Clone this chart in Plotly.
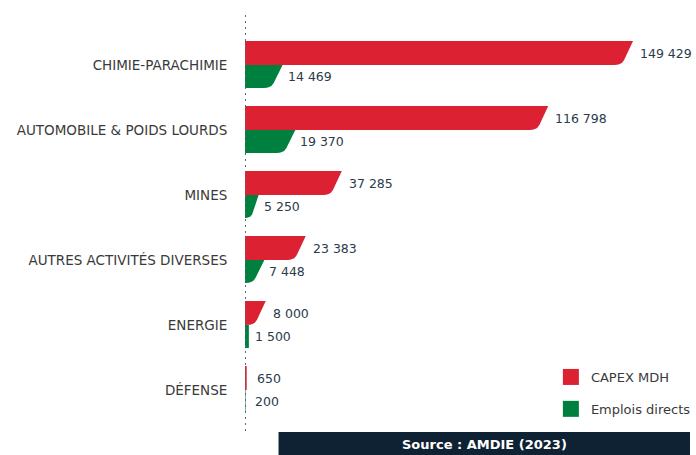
import plotly.graph_objects as go

# Sector data
categories = [
    "CHIMIE-PARACHIMIE",
    "AUTOMOBILE & POIDS LOURDS",
    "MINES",
    "AUTRES ACTIVITÉS DIVERSES",
    "ENERGIE",
    "DÉFENSE",
]
capex_mdh = [149429, 116798, 37285, 23383, 8000, 650]
emplois_directs = [14469, 19370, 5250, 7448, 1500, 200]

series_names = ["CAPEX MDH", "Emplois directs"]
source_text = "Source : AMDIE (2023)"

RED = "#DC2132"
GREEN = "#00803F"
NAVY = "#0F2234"
VALUE_COLOR = "#2B3B4C"
LABEL_COLOR = "#3A3A3A"
FONT = "DejaVu Sans"

W, H = 696, 455
LEFT = 245                 # px where the value axis starts
PLOT_W = W - LEFT
UNITS_PER_PX = 380.0       # value units per pixel
ROW_PX = 65.0              # pixels per category row


def fmt(v):
    return f"{v:,}".replace(",", " ")


def bar_outline(value, top, height_px):
    """Bar with a slanted, rounded right end, in data coordinates."""
    w = value / UNITS_PER_PX
    h = height_px
    pts = [(0, 0), (w, 0)]
    off = min(19.0, w) if w > 8 else 0.0
    if off > 0:
        k = off / 19.0
        b = (w - 9 * k, h - 5 * k)
        c = (w - 11.4 * k, h)
        e = (w - 19 * k, h)
        pts.append(b)
        n = 10
        for j in range(1, n + 1):
            t = j / n
            x = (1 - t) ** 2 * b[0] + 2 * (1 - t) * t * c[0] + t ** 2 * e[0]
            y = (1 - t) ** 2 * b[1] + 2 * (1 - t) * t * c[1] + t ** 2 * e[1]
            pts.append((x, y))
    else:
        pts.append((w, h))
    pts.append((0, h))
    pts.append((0, 0))
    xs = [p[0] * UNITS_PER_PX for p in pts]
    ys = [top + p[1] / ROW_PX for p in pts]
    return xs, ys


RED_H, GREEN_H = 24, 23

fig = go.Figure()
annotations = []

for i, (cat, cv, ev) in enumerate(zip(categories, capex_mdh, emplois_directs)):
    # CAPEX bar (above the category line)
    rtop = i - RED_H / ROW_PX
    xs, ys = bar_outline(cv, rtop, RED_H)
    fig.add_trace(go.Scatter(x=xs, y=ys, mode="lines", fill="toself",
                             fillcolor=RED, line=dict(width=0, color=RED),
                             hoverinfo="skip", showlegend=False))
    # Jobs bar (below the category line)
    xs, ys = bar_outline(ev, i, GREEN_H)
    fig.add_trace(go.Scatter(x=xs, y=ys, mode="lines", fill="toself",
                             fillcolor=GREEN, line=dict(width=0, color=GREEN),
                             hoverinfo="skip", showlegend=False))
    for v, yc, shift in ((cv, rtop + RED_H / 2 / ROW_PX, 5),
                         (ev, i + GREEN_H / 2 / ROW_PX, 3)):
        annotations.append(dict(
            x=max(v, 5 * UNITS_PER_PX), y=yc, xref="x", yref="y",
            text=fmt(v), showarrow=False, xanchor="left", yanchor="middle",
            xshift=shift, font=dict(family=FONT, size=12.5, color=VALUE_COLOR)))

# Legend entries
for name, color in zip(series_names, (RED, GREEN)):
    fig.add_trace(go.Scatter(x=[None], y=[None], mode="markers", name=name,
                             legendgroup=name,
                             marker=dict(symbol="square", size=18, color=color)))

# Source banner text
annotations.append(dict(
    x=((279 + W) / 2 - LEFT) / PLOT_W, y=(H - 444) / H,
    xref="paper", yref="paper", xanchor="center", yanchor="middle",
    text=f"<b>{source_text}</b>", showarrow=False,
    font=dict(family=FONT, size=13, color="#FFFFFF")))

shapes = [
    # dotted baseline
    dict(type="line", xref="x", yref="paper", x0=0, x1=0,
         y0=(H - 15) / H, y1=(H - 433) / H,
         line=dict(color="#56687A", width=2, dash="2px,4px")),
    # source banner
    dict(type="rect", xref="paper", yref="paper",
         x0=(279 - LEFT) / PLOT_W, x1=1, y0=0, y1=(H - 432) / H,
         fillcolor=NAVY, line=dict(width=0), layer="above"),
]

fig.update_layout(
    width=W, height=H,
    margin=dict(l=LEFT, r=0, t=0, b=0),
    plot_bgcolor="rgba(0,0,0,0)", paper_bgcolor="white",
    xaxis=dict(range=[0, PLOT_W * UNITS_PER_PX], visible=False, fixedrange=True),
    yaxis=dict(range=[6, -1], tickmode="array",
               tickvals=list(range(len(categories))), ticktext=categories,
               showgrid=False, zeroline=False, showline=False,
               ticks="outside", ticklen=14, tickcolor="rgba(0,0,0,0)",
               tickfont=dict(family=FONT, size=13.5, color=LABEL_COLOR),
               automargin=False, fixedrange=True),
    legend=dict(x=(555 - LEFT) / PLOT_W, y=(H - 362) / H, xanchor="left",
                yanchor="top", bgcolor="rgba(0,0,0,0)", tracegroupgap=12,
                font=dict(family=FONT, size=13, color=LABEL_COLOR)),
    annotations=annotations,
    shapes=shapes,
)

fig.write_html("out.html")
